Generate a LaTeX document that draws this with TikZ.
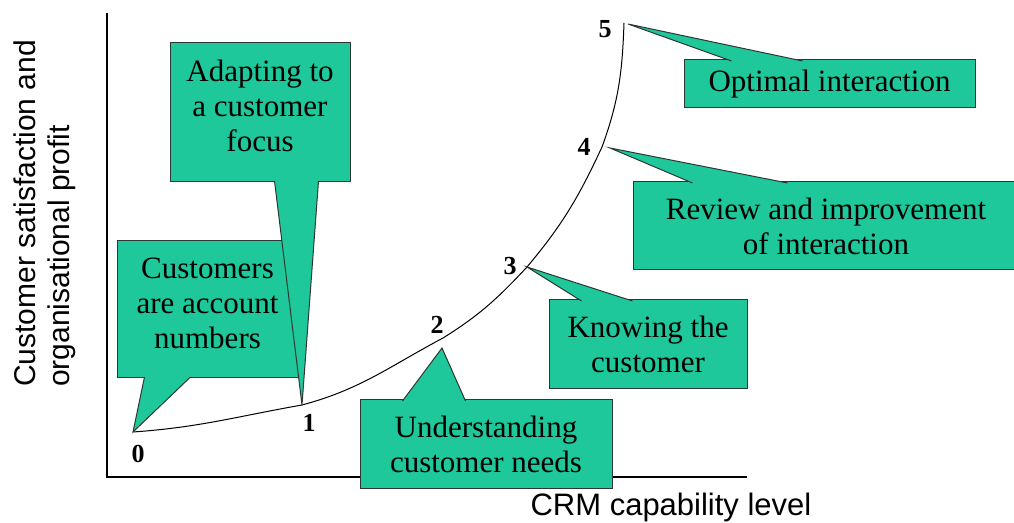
\documentclass[tikz,border=0pt]{standalone}
\usepackage{fontspec}
\setmainfont{Liberation Serif}
\newfontfamily\axisfont{Liberation Sans}
\definecolor{crmgreen}{RGB}{30,200,155}
\definecolor{crmedge}{RGB}{45,55,50}
\tikzset{
  callbox/.style={draw=crmedge, line width=1pt, fill=crmgreen, align=center,
    inner sep=0pt, font=\fontsize{31}{35}\selectfont},
  callpointer/.style={draw=crmedge, line width=1pt, fill=crmgreen},
  stage/.style={inner sep=0pt, font=\bfseries\fontsize{26}{30}\selectfont},
  axislabel/.style={inner sep=0pt, font=\axisfont\fontsize{30}{34}\selectfont}
}
\begin{document}
\begin{tikzpicture}[x=1pt,y=1pt]
    \useasboundingbox (0,0) rectangle (1014,522);
    %Axis
    \coordinate (O) at (107,45);
    \draw[line width=1.2pt] (107,509) -- (O) -- (747,45);
    \node[axislabel, anchor=north west, rotate=90, align=left] (ylabel) at (14,135)
      {Customer satisfaction and\\organisational profit};
    \node[axislabel, font=\axisfont\fontsize{31}{35}\selectfont, anchor=base] (xlabel)
      at (671,7) {CRM capability level};

    %Curve
    \coordinate (c0) at (133,90);
    \coordinate (c1) at (302,117);
    \coordinate (c2) at (443,184);
    \coordinate (c3) at (527,255);
    \coordinate (c4) at (602,375);
    \coordinate (c5) at (624,499);
    \draw[line width=1pt] (c0) to[out=4,in=190] (c1) to[out=15,in=208] (c2)
      to[out=32,in=227] (c3) to[out=50,in=245] (c4) to[out=70,in=268] (c5);

    %Pointer tips
    \coordinate (t2) at (442,174);
    \coordinate (t4) at (610,374);
    \coordinate (t5) at (628,498);

    %Stages
    \node[stage] (s0) at (138,68) {0};
    \node[stage] (s1) at (309,99) {1};
    \node[stage] (s2) at (437,197) {2};
    \node[stage] (s3) at (510,256) {3};
    \node[stage] (s4) at (584,375) {4};
    \node[stage] (s5) at (605,493) {5};

    %Callouts
    \node[callbox, minimum width=181pt, minimum height=137pt] (accounts) at (207.5,212.5)
      {Customers\\are account\\numbers\rule[-13pt]{0pt}{13pt}};
    \filldraw[callpointer] ([xshift=28pt,yshift=1.5pt]accounts.south west) -- (c0)
      -- ([xshift=74pt,yshift=1.5pt]accounts.south west);

    \node[callbox, minimum width=180pt, minimum height=139pt] (adapting) at (260,409.5)
      {Adapting to\\a customer\\focus\rule[-13pt]{0pt}{13pt}};
    \filldraw[callpointer] ([xshift=105pt,yshift=1.5pt]adapting.south west) -- (c1)
      -- ([xshift=149pt,yshift=1.5pt]adapting.south west);

    \node[callbox, minimum width=252pt, minimum height=88pt] (understanding) at (486,78)
      {Understanding\\customer needs};
    \filldraw[callpointer] ([xshift=43pt,yshift=-1.5pt]understanding.north west) -- (t2)
      -- ([xshift=106pt,yshift=-1.5pt]understanding.north west);

    \node[callbox, minimum width=198pt, minimum height=89pt] (knowing) at (648,177.5)
      {Knowing the\\customer};
    \filldraw[callpointer] ([xshift=33pt,yshift=-1.5pt]knowing.north west) -- (c3)
      -- ([xshift=84pt,yshift=-1.5pt]knowing.north west);

    \node[callbox, minimum width=386pt, minimum height=88pt] (review) at (826,296)
      {Review and improvement\\of interaction};
    \filldraw[callpointer] ([xshift=60pt,yshift=-1.5pt]review.north west) -- (t4)
      -- ([xshift=155pt,yshift=-1.5pt]review.north west);

    \node[callbox, minimum width=291pt, minimum height=48pt] (optimal) at (829.5,438)
      {Optimal interaction};
    \filldraw[callpointer] ([xshift=48pt,yshift=-1.5pt]optimal.north west) -- (t5)
      -- ([xshift=119pt,yshift=-1.5pt]optimal.north west);
\end{tikzpicture}
\end{document}
